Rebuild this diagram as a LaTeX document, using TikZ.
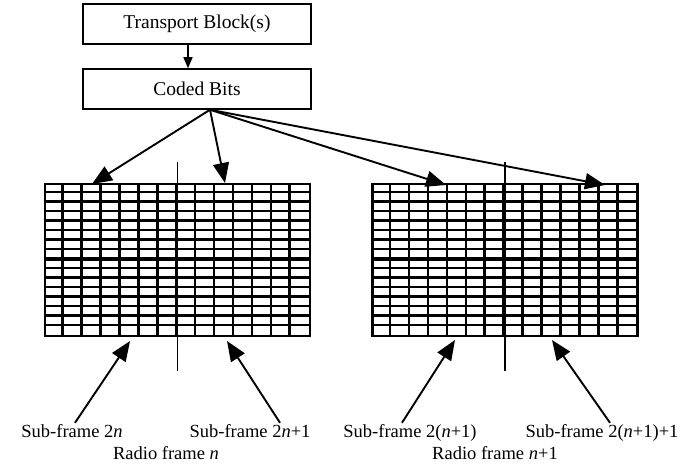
\documentclass[tikz,border=0pt]{standalone}
\usepackage{fontspec}
\setmainfont{Liberation Serif}
\usetikzlibrary{arrows.meta}
\begin{document}
\begin{tikzpicture}[x=1pt,y=-1pt,
  font=\fontsize{18.5}{20}\selectfont,
  blockbox/.style={draw,line width=1.5pt,minimum width=228pt,minimum height=40pt,inner sep=0pt,
    font=\fontsize{19.5}{21}\selectfont},
  framebox/.style={draw,line width=2.6pt,minimum width=265pt,minimum height=152pt,inner sep=0pt},
  gridline/.style={line width=2.6pt},
  divider/.style={line width=1.5pt},
  fanarrow/.style={line width=1.9pt,-{Triangle[length=20pt,width=16pt]}},
  linkarrow/.style={line width=1.4pt,-{Triangle[length=11pt,width=9pt]}},
  label/.style={inner sep=0pt,anchor=base}]
\useasboundingbox (0,0) rectangle (681,465);

% processing chain
\node[blockbox] (tb) at (197,24) {Transport Block(s)};
\node[blockbox] (cb) at (197,89) {Coded Bits};
\draw[linkarrow] ([xshift=-9pt]tb.south) -- ([xshift=-9pt]cb.north);
\coordinate (src) at ([xshift=13pt]cb.south);

% radio frame grids (14 columns x 16 rows each)
\node[framebox] (ga) at (177.5,260) {};
\node[framebox] (gb) at (505,260) {};
\foreach \g in {ga,gb}{
  \foreach \i in {1,...,13}
    \draw[gridline] ([xshift={\i*265/14}]\g.north west) -- ([xshift={\i*265/14}]\g.south west);
  \foreach \j in {1,...,15}
    \draw[gridline] ([yshift={-\j*9.5}]\g.north west) -- ([yshift={-\j*9.5}]\g.north east);
  \draw[line width=3pt] (\g.west) -- (\g.east);
  \draw[divider] ([yshift=21pt]\g.north) -- ([yshift=-34pt]\g.south);
}

% targets of the coded bits
\coordinate (ta) at (92,184);
\coordinate (tb2) at (225,183);
\coordinate (tc) at (446,185);
\coordinate (td) at (605,185);
\foreach \t in {ta,tb2,tc,td}
  \draw[fanarrow] (src) -- (\t);

% sub-frame labels
\node[label] (sa) at (72,438) {Sub-frame 2\textit{n}};
\node[label] (sb) at (250,438) {Sub-frame 2\textit{n}+1};
\node[label] (sc) at (410,438) {Sub-frame 2(\textit{n}+1)};
\node[label] (sd) at (602,438) {Sub-frame 2(\textit{n}+1)+1};
\coordinate (pa) at (130,341);
\coordinate (pb) at (227,341);
\coordinate (pc) at (455,340);
\coordinate (pd) at (552,340);
\draw[fanarrow] ([xshift=3pt,yshift=2pt]sa.north) -- (pa);
\draw[fanarrow] ([xshift=30pt,yshift=2pt]sb.north) -- (pb);
\draw[fanarrow] ([xshift=-8pt,yshift=2pt]sc.north) -- (pc);
\draw[fanarrow] ([xshift=8pt,yshift=2pt]sd.north) -- (pd);

% radio frame labels
\node[label] (ra) at (166,460) {Radio frame \textit{n}};
\node[label] (rb) at (495,460) {Radio frame \textit{n}+1};
\end{tikzpicture}
\end{document}
